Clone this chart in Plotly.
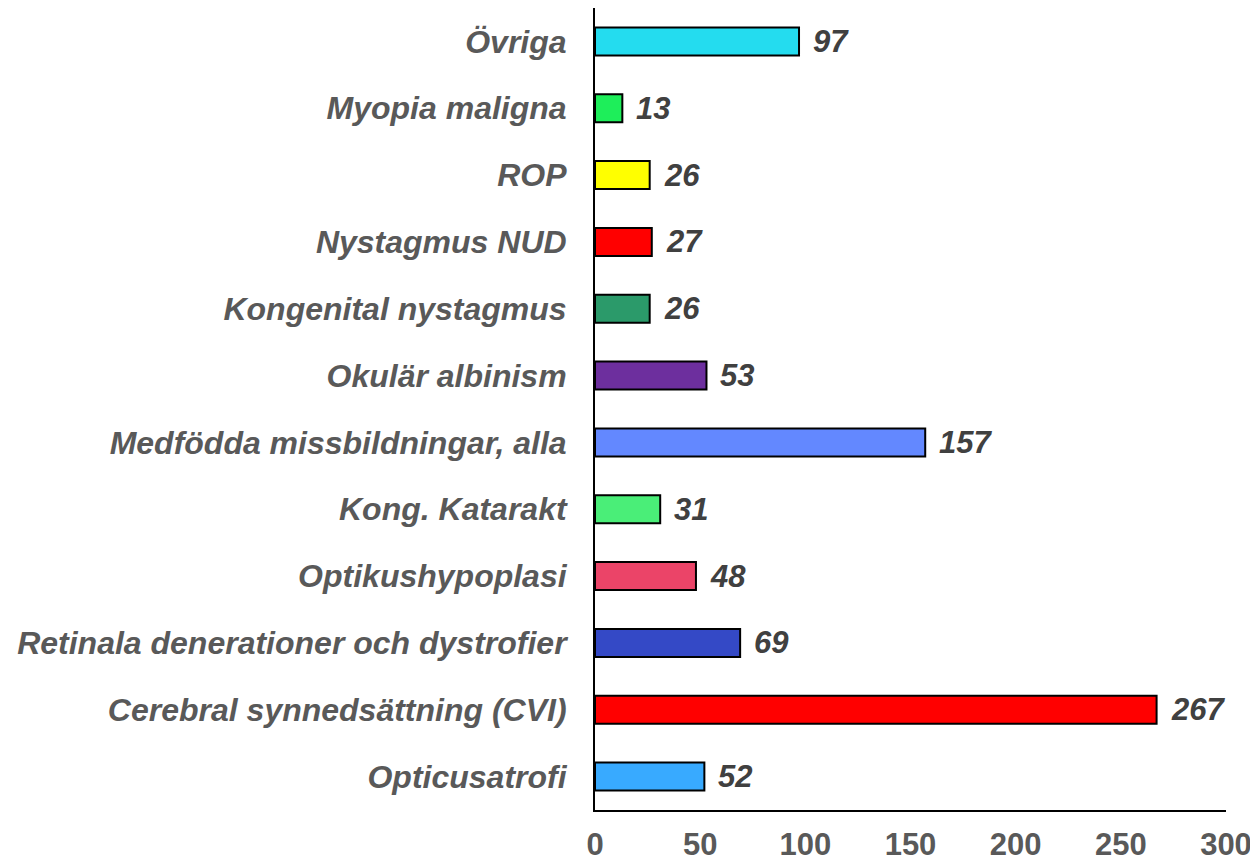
import plotly.graph_objects as go

# categories from bottom to top
categories = [
    "Opticusatrofi",
    "Cerebral synnedsättning (CVI)",
    "Retinala denerationer och dystrofier",
    "Optikushypoplasi",
    "Kong. Katarakt",
    "Medfödda missbildningar, alla",
    "Okulär albinism",
    "Kongenital nystagmus",
    "Nystagmus NUD",
    "ROP",
    "Myopia maligna",
    "Övriga",
]
counts = [52, 267, 69, 48, 31, 157, 53, 26, 27, 26, 13, 97]
bar_colors = [
    "#38AAFF", "#FF0000", "#3449C6", "#EB4468", "#4AEE78", "#6388FF",
    "#6D2F9E", "#2B9A6A", "#FF0000", "#FFFF00", "#1EEE5A", "#24DCEF",
]
x_ticks = [0, 50, 100, 150, 200, 250, 300]

fig = go.Figure()
fig.add_trace(go.Bar(
    x=counts,
    y=categories,
    orientation="h",
    width=0.42,
    marker=dict(color=bar_colors, line=dict(color="black", width=2)),
    hoverinfo="x+y",
))

# value labels next to each bar
for cat, val in zip(categories, counts):
    fig.add_annotation(
        x=val, y=cat, text=str(val), showarrow=False,
        xanchor="left", xshift=12,
        font=dict(family="Liberation Sans, Arial, sans-serif", size=31,
                  color="#404040", weight="bold", style="italic"),
    )

# the page body has an 8px margin, so the figure is 8px smaller than the window
fig.update_layout(
    width=1250, height=855,
    margin=dict(l=587, r=32, t=0, b=53, pad=0),
    plot_bgcolor="white", paper_bgcolor="white",
    showlegend=False,
)
fig.update_xaxes(
    range=[0, 300], tickvals=x_ticks, showgrid=False, zeroline=False,
    showline=True, linecolor="black", linewidth=2,
    ticks="", ticklabelstandoff=6, automargin=False,
    tickfont=dict(family="Liberation Sans Narrow, Arial Narrow, Liberation Sans, sans-serif",
                  size=31, color="#595959", weight="bold"),
)
fig.update_yaxes(
    range=[-0.5, len(categories) - 0.5],
    showgrid=False, zeroline=False,
    showline=True, linecolor="black", linewidth=2,
    ticks="", ticklabelstandoff=20, automargin=False,
    tickfont=dict(family="Liberation Sans, Arial, sans-serif", size=32,
                  color="#595959", weight="bold", style="italic"),
)

fig.write_html("out.html")
